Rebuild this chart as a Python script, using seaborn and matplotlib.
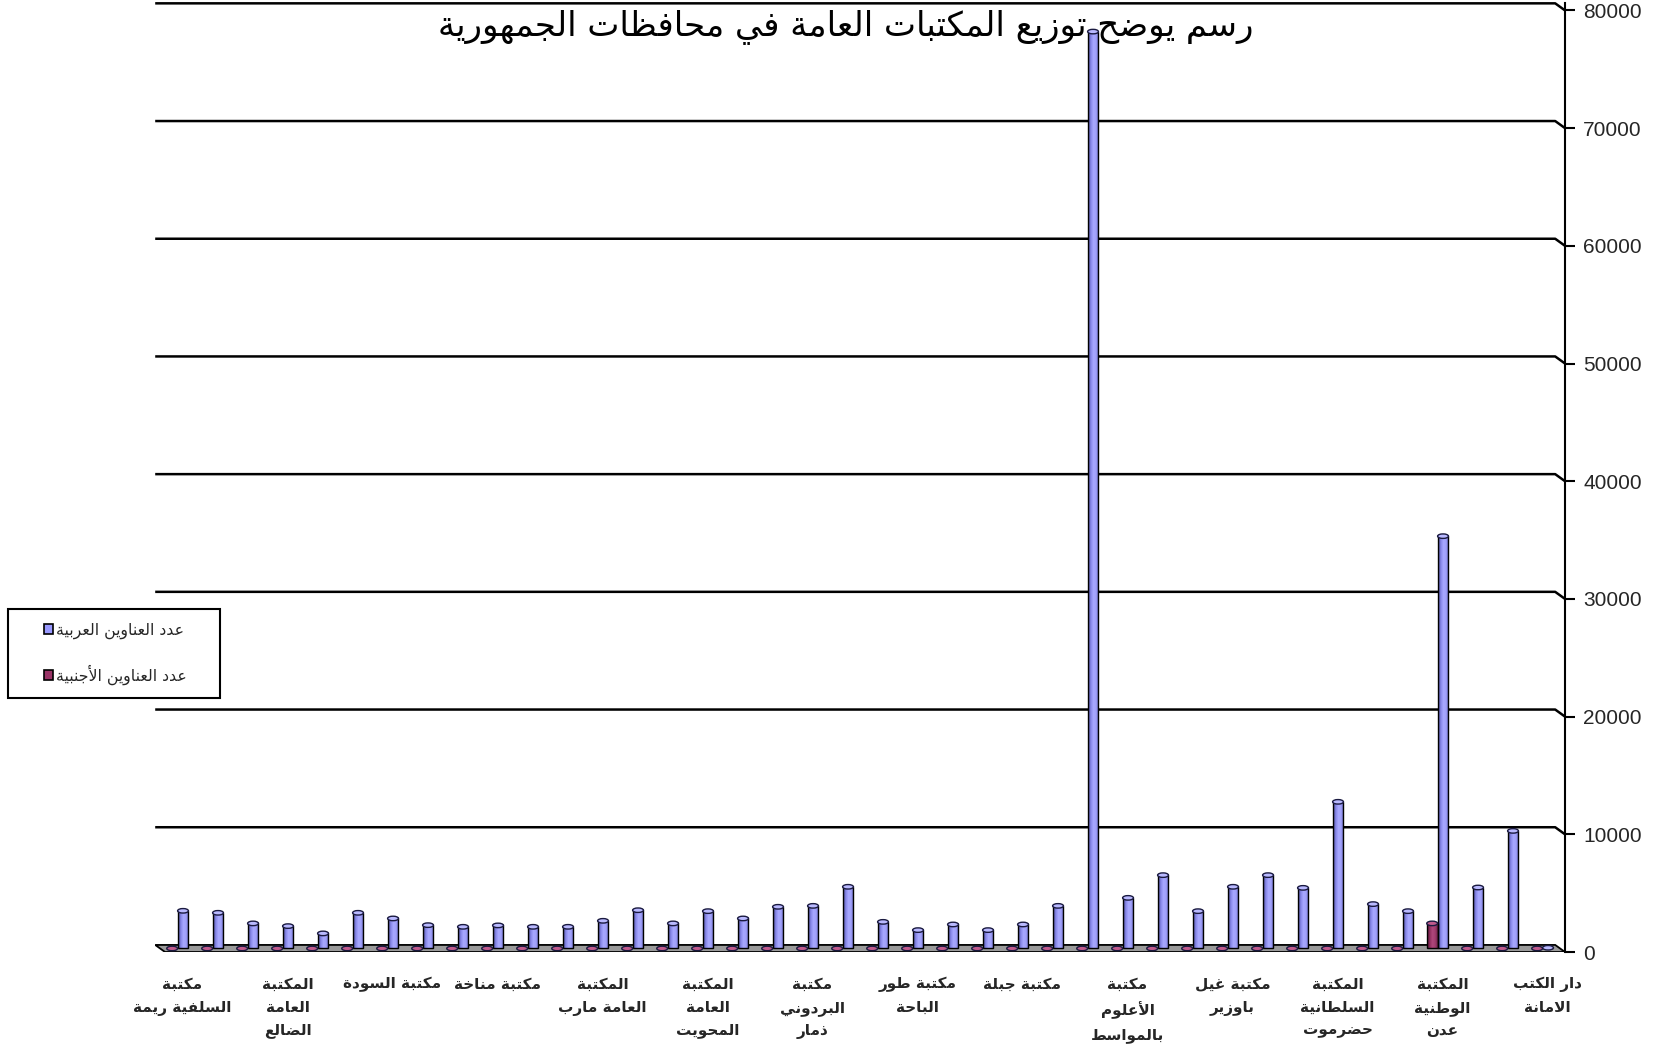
import numpy as np
import pandas as pd
import matplotlib
matplotlib.use("Agg")
import matplotlib.pyplot as plt
import seaborn as sns
from matplotlib.patches import Polygon, Ellipse, Rectangle, Patch
from matplotlib.colors import LinearSegmentedColormap

# ---------------- data ----------------
title = "رسم يوضح توزيع المكتبات العامة في محافظات الجمهورية"
series_arabic = "عدد العناوين العربية"
series_foreign = "عدد العناوين الأجنبية"

arabic_titles = [3200, 3030, 2130, 1900, 1280, 3030, 2550, 1980, 1840, 1960,
                 1840, 1840, 2350, 3250, 2130, 3170, 2550, 3540, 3620, 5240,
                 2260, 1560, 2040, 1560, 2040, 3620, 77900, 4300, 6230, 3170,
                 5240, 6230, 5150, 12460, 3770, 3170, 35030, 5180, 9990, 60]
foreign_titles = [0, 0, 0, 0, 0, 0, 0, 0, 0, 0,
                  0, 0, 0, 0, 0, 0, 0, 0, 0, 0,
                  0, 0, 0, 0, 0, 0, 0, 0, 0, 0,
                  0, 0, 0, 0, 0, 0, 2130, 0, 0, 0]
labelled_categories = [0, 3, 6, 9, 12, 15, 18, 21, 24, 27, 30, 33, 36, 39]
category_labels = [
    "مكتبة\nالسلفية ريمة",
    "المكتبة\nالعامة\nالضالع",
    "مكتبة السودة",
    "مكتبة مناخة",
    "المكتبة\nالعامة مارب",
    "المكتبة\nالعامة\nالمحويت",
    "مكتبة\nالبردوني\nذمار",
    "مكتبة طور\nالباحة",
    "مكتبة جبلة",
    "مكتبة\nالأعلوم\nبالمواسط",
    "مكتبة غيل\nباوزير",
    "المكتبة\nالسلطانية\nحضرموت",
    "المكتبة\nالوطنية\nعدن",
    "دار الكتب\nالامانة",
]
y_ticks = [0, 10000, 20000, 30000, 40000, 50000, 60000, 70000, 80000]

# ------------- Arabic shaping (presentation forms + RTL order) -------------
_BASE = {
    '\u0621': (0xFE80, 'N'), '\u0622': (0xFE81, 'R'), '\u0623': (0xFE83, 'R'),
    '\u0624': (0xFE85, 'R'), '\u0625': (0xFE87, 'R'), '\u0626': (0xFE89, 'D'),
    '\u0627': (0xFE8D, 'R'), '\u0628': (0xFE8F, 'D'), '\u0629': (0xFE93, 'R'),
    '\u062A': (0xFE95, 'D'), '\u062B': (0xFE99, 'D'), '\u062C': (0xFE9D, 'D'),
    '\u062D': (0xFEA1, 'D'), '\u062E': (0xFEA5, 'D'), '\u062F': (0xFEA9, 'R'),
    '\u0630': (0xFEAB, 'R'), '\u0631': (0xFEAD, 'R'), '\u0632': (0xFEAF, 'R'),
    '\u0633': (0xFEB1, 'D'), '\u0634': (0xFEB5, 'D'), '\u0635': (0xFEB9, 'D'),
    '\u0636': (0xFEBD, 'D'), '\u0637': (0xFEC1, 'D'), '\u0638': (0xFEC5, 'D'),
    '\u0639': (0xFEC9, 'D'), '\u063A': (0xFECD, 'D'), '\u0641': (0xFED1, 'D'),
    '\u0642': (0xFED5, 'D'), '\u0643': (0xFED9, 'D'), '\u0644': (0xFEDD, 'D'),
    '\u0645': (0xFEE1, 'D'), '\u0646': (0xFEE5, 'D'), '\u0647': (0xFEE9, 'D'),
    '\u0648': (0xFEED, 'R'), '\u0649': (0xFEEF, 'R'), '\u064A': (0xFEF1, 'D'),
}
_LAM_ALEF = {'\u0622': (0xFEF5, 0xFEF6), '\u0623': (0xFEF7, 0xFEF8),
             '\u0625': (0xFEF9, 0xFEFA), '\u0627': (0xFEFB, 0xFEFC)}


def _shape_line(line):
    ch = list(line)
    n = len(ch)
    out = []
    i = 0
    dual = lambda c: c in _BASE and _BASE[c][1] == 'D'
    while i < n:
        c = ch[i]
        if c not in _BASE:
            out.append(c)
            i += 1
            continue
        jp = i > 0 and dual(ch[i - 1])
        if c == '\u0644' and i + 1 < n and ch[i + 1] in _LAM_ALEF:
            iso, fin = _LAM_ALEF[ch[i + 1]]
            out.append(chr(fin if jp else iso))
            i += 2
            continue
        jn = dual(c) and i + 1 < n and ch[i + 1] in _BASE
        base, kind = _BASE[c]
        if kind == 'N':
            f = base
        elif kind == 'R':
            f = base + 1 if jp else base
        else:
            if jp and jn:
                f = base + 3
            elif jn:
                f = base + 2
            elif jp:
                f = base + 1
            else:
                f = base
        out.append(chr(f))
        i += 1
    return ''.join(reversed(out))


def ar(text):
    return '\n'.join(_shape_line(l) for l in text.split('\n'))


# ---------------- figure ----------------
sns.set_theme(style="white")
plt.rcParams['font.family'] = ['DejaVu Sans']

W, H = 1655, 1052
fig = plt.figure(figsize=(W / 100, H / 100), dpi=100)
fig.patch.set_facecolor('white')

ax_left, ax_right, ax_top, ax_bottom = 155.2, 1565.0, 3.0, 952.0
ax = fig.add_axes([ax_left / W, 1 - ax_bottom / H, (ax_right - ax_left) / W,
                   (ax_bottom - ax_top) / H])
ax.set_facecolor('none')

df = pd.DataFrame({
    'idx': list(range(len(arabic_titles))) * 2,
    'series': [series_foreign] * len(foreign_titles) + [series_arabic] * len(arabic_titles),
    'value': foreign_titles + arabic_titles,
})
c_ar, c_fo = '#9999FF', '#993366'
sns.barplot(data=df, x='idx', y='value', hue='series',
            hue_order=[series_foreign, series_arabic],
            palette={series_arabic: c_ar, series_foreign: c_fo},
            width=0.62, dodge=True, saturation=1, edgecolor='black',
            linewidth=1.0, legend=False, ax=ax, zorder=3)

units_per_px = 80629 / (ax_bottom - ax_top)
depth = 300  # half floor depth in data units
ylim = (-depth, -depth + 80629)
xlim = (-0.78, 39.5)

# 3D floor
floor = Polygon([(-0.5, -depth), (39.5, -depth), (39.5 - 0.28, depth), (-0.78, depth)],
                closed=True, facecolor='#9a9a9a', edgecolor='black', lw=1.3, zorder=1)
ax.add_patch(floor)

# back wall gridlines with 3D bend at the right axis
for v in y_ticks[1:]:
    ax.plot([-0.78, 39.5 - 0.28, 39.5], [v + depth, v + depth, v - depth],
            color='black', lw=1.8, zorder=0.5, clip_on=False, solid_capstyle='butt')

cm_ar = LinearSegmentedColormap.from_list('cyl_ar', ['#4a4a92', '#8585e6', '#a9a9ff', '#a0a0fa', '#6a6abf'])
cm_fo = LinearSegmentedColormap.from_list('cyl_fo', ['#5a1838', '#8e2d5e', '#b0487c', '#a23d70', '#6e2248'])
shift = -0.14
ell_h = 4.5 * units_per_px
grad = np.linspace(0, 1, 64).reshape(1, -1)
for p in list(ax.patches):
    if not isinstance(p, Rectangle) or p is floor:
        continue
    fc = p.get_facecolor()
    is_ar = abs(fc[0] - 0x99 / 255) < 0.02 and abs(fc[2] - 1.0) < 0.02
    cmap = cm_ar if is_ar else cm_fo
    top_c = '#b9b9ff' if is_ar else '#c05a8c'
    p.set_x(p.get_x() + shift)
    x0, w, h, y0 = p.get_x(), p.get_width(), p.get_height(), p.get_y()
    if h > 0:
        ax.imshow(grad, extent=(x0, x0 + w, y0, y0 + h), aspect='auto', cmap=cmap,
                  interpolation='bilinear', zorder=2.5)
    p.set_facecolor('none')
    p.set_zorder(3)
    p.set_linewidth(1.0 if h > 0 else 0)
    ax.add_patch(Ellipse((x0 + w / 2, y0 + h), w, ell_h, facecolor=top_c,
                         edgecolor='#1a1a40', lw=1.0, zorder=4))

ax.set_xlim(*xlim)
ax.set_ylim(*ylim)
ax.set_aspect('auto')
for s in ax.spines.values():
    s.set_visible(False)
ax.set_yticks([])
ax.set_ylabel('')
ax.set_xlabel('')

# x ticks: boundaries as minor ticks, labels every third category
ax.set_xticks(np.arange(-0.5, 40, 1), minor=True)
ax.set_xticks(labelled_categories)
ax.set_xticklabels([ar(t) for t in category_labels], fontsize=11, fontweight='bold',
                   family=['DejaVu Sans'])
for t in ax.get_xticklabels():
    t.set_multialignment('center')
    t.set_linespacing(1.65)
ax.tick_params(axis='x', which='major', length=0, pad=18)
ax.tick_params(axis='x', which='minor', length=5, width=1.5, color='black', direction='out')

# right value axis (front plane)
ax2 = ax.twinx()
ax2.set_ylim(0, 80629)
ax2.set_yticks(y_ticks)
ax2.set_yticklabels([str(v) for v in y_ticks], fontsize=15, family=['Liberation Sans'])
ax2.tick_params(axis='y', which='major', length=7, width=1.5, color='black', pad=6,
                right=True, left=False, labelright=True, labelleft=False)
for k, s in ax2.spines.items():
    s.set_visible(k == 'right')
ax2.spines['right'].set_linewidth(1.5)
ax2.spines['right'].set_color('black')
ax2.set_xlim(*xlim)
ax2.grid(False)

# title
fig.text(846 / W, 1 - 27 / H, ar(title), ha='center', va='center', fontsize=24.5,
         family=['DejaVu Sans'], color='black', zorder=10)

# legend
fig.add_artist(Rectangle((8 / W, 1 - 698 / H), 212 / W, 89 / H, transform=fig.transFigure,
                         fill=False, edgecolor='black', lw=1.5))
handles = [Patch(facecolor=c_ar, edgecolor='black', lw=1.2),
           Patch(facecolor=c_fo, edgecolor='black', lw=1.2)]
fig.legend(handles, [ar(series_arabic), ar(series_foreign)], loc='upper left',
           bbox_to_anchor=(44 / W, 1 - 623 / H), bbox_transform=fig.transFigure,
           frameon=False, prop={'family': ['DejaVu Sans'], 'size': 11.3},
           handlelength=0.6, handleheight=0.6, handletextpad=0.15,
           labelspacing=1.6, borderpad=0, borderaxespad=0)

fig.savefig('out.png', dpi=100)
